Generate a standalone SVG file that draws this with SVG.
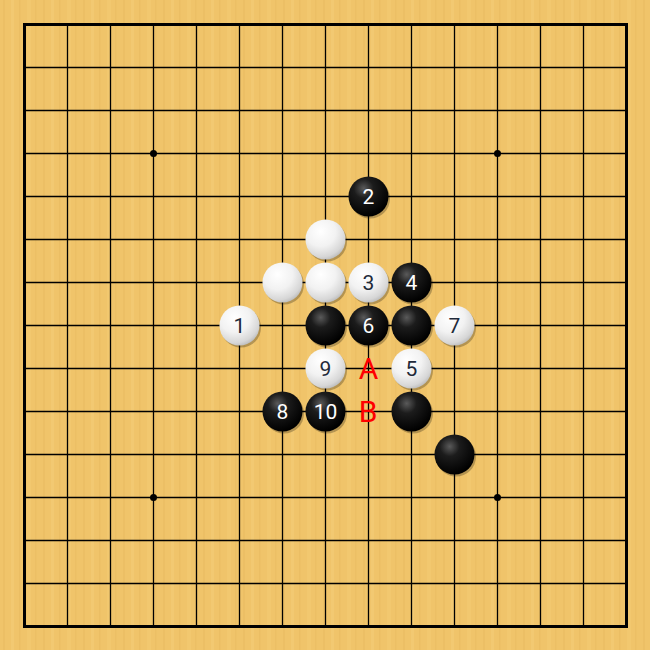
<svg xmlns="http://www.w3.org/2000/svg" width="650" height="650" viewBox="0 0 650 650">
<defs>
<pattern id="wood" width="40" height="650" patternUnits="userSpaceOnUse">
<rect width="40" height="650" fill="#F0C46A"/>
<rect x="3" width="2" height="650" fill="#E9BC62" opacity="0.6"/>
<rect x="11" width="3" height="650" fill="#F4CD78" opacity="0.6"/>
<rect x="19" width="1.5" height="650" fill="#E6B85E" opacity="0.5"/>
<rect x="27" width="4" height="650" fill="#F3CB74" opacity="0.5"/>
<rect x="35" width="1.5" height="650" fill="#E8BA60" opacity="0.5"/>
</pattern>
<radialGradient id="gb" cx="0.38" cy="0.3" r="0.7">
<stop offset="0" stop-color="#5a5a5a"/>
<stop offset="0.35" stop-color="#1c1c1c"/>
<stop offset="1" stop-color="#000"/>
</radialGradient>
<radialGradient id="gw" cx="0.38" cy="0.3" r="0.75">
<stop offset="0" stop-color="#ffffff"/>
<stop offset="0.5" stop-color="#f2f2f2"/>
<stop offset="0.85" stop-color="#d6d6d6"/>
<stop offset="1" stop-color="#b8b8b8"/>
</radialGradient>
<symbol id="b" overflow="visible"><circle cx="1.5" cy="2" r="20" fill="#000" opacity="0.25"/><circle r="20" fill="url(#gb)"/></symbol>
<symbol id="w" overflow="visible"><circle cx="1.5" cy="2" r="20" fill="#000" opacity="0.25"/><circle r="20" fill="url(#gw)"/></symbol>
</defs>
<style>
.g{stroke:#000;stroke-width:1.3}
.n{font-family:Roboto,"Liberation Sans",sans-serif;font-size:21px;text-anchor:middle;dominant-baseline:central}
.nb{fill:#fff}
.nw{fill:#1f2a3a}
.m{font-family:Roboto,"Liberation Sans",sans-serif;font-size:30px;fill:#ff0000;text-anchor:middle;dominant-baseline:central}
</style>
<rect width="650" height="650" fill="url(#wood)"/>
<g id="grid">
<path class="g" d="M67.5 24.5V626.5M110.5 24.5V626.5M153.5 24.5V626.5M196.5 24.5V626.5M239.5 24.5V626.5M282.5 24.5V626.5M325.5 24.5V626.5M368.5 24.5V626.5M411.5 24.5V626.5M454.5 24.5V626.5M497.5 24.5V626.5M540.5 24.5V626.5M583.5 24.5V626.5"/>
<path class="g" d="M24.5 67.5H626.5M24.5 110.5H626.5M24.5 153.5H626.5M24.5 196.5H626.5M24.5 239.5H626.5M24.5 282.5H626.5M24.5 325.5H626.5M24.5 368.5H626.5M24.5 411.5H626.5M24.5 454.5H626.5M24.5 497.5H626.5M24.5 540.5H626.5M24.5 583.5H626.5"/>
<rect x="24.5" y="24.5" width="602" height="602" fill="none" stroke="#000" stroke-width="3"/>
<circle cx="153.5" cy="153.5" r="3.5"/><circle cx="497.5" cy="153.5" r="3.5"/><circle cx="153.5" cy="497.5" r="3.5"/><circle cx="497.5" cy="497.5" r="3.5"/>
</g>
<g id="stones">
<g id="s2"><use href="#b" x="368.5" y="196.5"/><text class="n nb" x="368.5" y="196.5">2</text></g>
<g id="sw1"><use href="#w" x="325.5" y="239.5"/></g>
<g id="sw2"><use href="#w" x="282.5" y="282.5"/></g>
<g id="sw3"><use href="#w" x="325.5" y="282.5"/></g>
<g id="s3"><use href="#w" x="368.5" y="282.5"/><text class="n nw" x="368.5" y="282.5">3</text></g>
<g id="s4"><use href="#b" x="411.5" y="282.5"/><text class="n nb" x="411.5" y="282.5">4</text></g>
<g id="s1"><use href="#w" x="239.5" y="325.5"/><text class="n nw" x="239.5" y="325.5">1</text></g>
<g id="sb1"><use href="#b" x="325.5" y="325.5"/></g>
<g id="s6"><use href="#b" x="368.5" y="325.5"/><text class="n nb" x="368.5" y="325.5">6</text></g>
<g id="sb2"><use href="#b" x="411.5" y="325.5"/></g>
<g id="s7"><use href="#w" x="454.5" y="325.5"/><text class="n nw" x="454.5" y="325.5">7</text></g>
<g id="s9"><use href="#w" x="325.5" y="368.5"/><text class="n nw" x="325.5" y="368.5">9</text></g>
<g id="s5"><use href="#w" x="411.5" y="368.5"/><text class="n nw" x="411.5" y="368.5">5</text></g>
<g id="s8"><use href="#b" x="282.5" y="411.5"/><text class="n nb" x="282.5" y="411.5">8</text></g>
<g id="s10"><use href="#b" x="325.5" y="411.5"/><text class="n nb" x="325.5" y="411.5">10</text></g>
<g id="sb3"><use href="#b" x="411.5" y="411.5"/></g>
<g id="sb4"><use href="#b" x="454.5" y="454.5"/></g>
</g>
<g id="marks">
<text class="m" x="368.5" y="368.5">A</text>
<text class="m" x="368" y="411">B</text>
</g>
</svg>
